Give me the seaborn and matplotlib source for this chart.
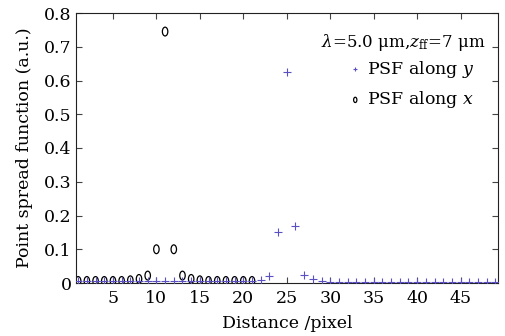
import numpy as np
import pandas as pd
import matplotlib
matplotlib.use("Agg")
import matplotlib.pyplot as plt
from matplotlib.path import Path
from matplotlib.transforms import Affine2D
import seaborn as sns

# Data
dist_y = list(range(1, 50))
psf_y = [0.005]*21 + [0.009, 0.022, 0.15, 0.625, 0.17, 0.025, 0.012, 0.007] + [0.004]*20
dist_x = list(range(1, 22))
psf_x = [0.006, 0.006, 0.006, 0.006, 0.006, 0.006, 0.008, 0.012, 0.022, 0.1, 0.745,
         0.1, 0.022, 0.012, 0.008, 0.006, 0.006, 0.006, 0.006, 0.006, 0.006]
xticks = [5, 10, 15, 20, 25, 30, 35, 40, 45]
yticks = [0, 0.1, 0.2, 0.3, 0.4, 0.5, 0.6, 0.7, 0.8]
ytick_labels = ["0", "0.1", "0.2", "0.3", "0.4", "0.5", "0.6", "0.7", "0.8"]
title_text = r"$\lambda$=5.0 μm,$z_{\rm ff}$=7 μm"

sns.set_theme(style="white")
plt.rcParams["font.family"] = ["DejaVu Serif"]
plt.rcParams["mathtext.fontset"] = "dejavuserif"
plt.rcParams["text.color"] = "black"
plt.rcParams["axes.labelcolor"] = "black"
plt.rcParams["xtick.color"] = "black"
plt.rcParams["ytick.color"] = "black"

ellipse = Path.unit_circle().transformed(Affine2D().scale(0.62, 1.0))

fig = plt.figure(figsize=(5.06, 3.36), dpi=100)
ax = fig.add_axes([76/506, 1-283/336, (498-76)/506, (283-13)/336])

dfy = pd.DataFrame({"d": dist_y, "v": psf_y})
dfx = pd.DataFrame({"d": dist_x, "v": psf_x})
sns.scatterplot(data=dfy, x="d", y="v", marker="+", color="#5b4fc4", s=32,
                linewidth=0.8, ax=ax, label=r"PSF along $y$", zorder=3)
sns.scatterplot(data=dfx, x="d", y="v", marker=ellipse, facecolor="none",
                edgecolor="black", s=40, linewidth=0.9, ax=ax,
                label=r"PSF along $x$", zorder=2)

ax.set_xlim(0.75, 49.3)
ax.set_ylim(0, 0.8)
ax.set_xticks(xticks)
ax.set_yticks(yticks)
ax.set_yticklabels(ytick_labels)
ax.tick_params(direction="in", top=True, right=True, bottom=True, left=True,
               labelsize=12.5, length=4, color="#444444", labelcolor="black",
               width=0.8)
ax.tick_params(axis="x", pad=5)
ax.tick_params(axis="y", pad=3)
for s in ax.spines.values():
    s.set_visible(True)
    s.set_color("#222222")
    s.set_linewidth(0.8)
ax.set_xlabel("Distance /pixel", fontsize=12.5, labelpad=6, color="black")
ax.set_ylabel("Point spread function (a.u.)", fontsize=12.5, labelpad=8,
              color="black")

ax.text(0.969, 0.889, title_text, transform=ax.transAxes, ha="right",
        va="center", fontsize=12, color="black")
leg = ax.legend(loc="upper right", bbox_to_anchor=(0.945, 0.83), frameon=False,
                fontsize=12.5, handletextpad=0.2, borderaxespad=0, borderpad=0,
                markerscale=0.6, labelspacing=0.55, handlelength=1.0,
                labelcolor="black")

fig.savefig("out.png", dpi=100)
